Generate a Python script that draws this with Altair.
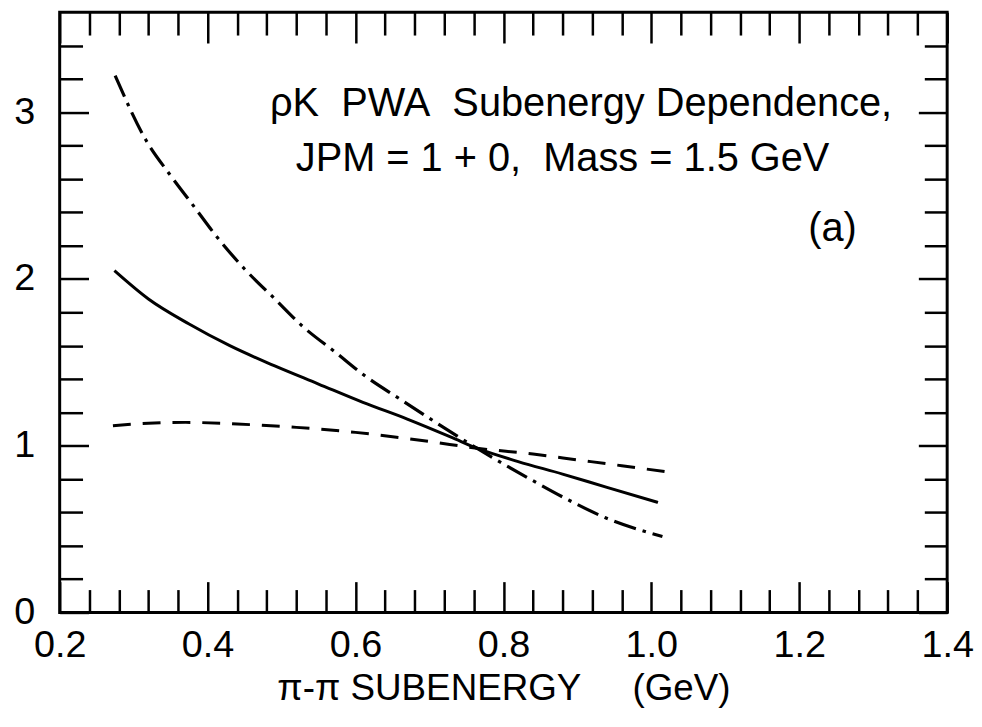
import altair as alt
import pandas as pd

# ---- data ----
solid_x = [0.274, 0.32, 0.375, 0.43, 0.49, 0.55, 0.61, 0.67, 0.73, 0.764, 0.82, 0.88, 0.94, 1.009]
solid_y = [2.05, 1.88, 1.73, 1.60, 1.48, 1.37, 1.26, 1.16, 1.05, 0.985, 0.905, 0.83, 0.75, 0.66]

dashed_x = [0.272, 0.32, 0.37, 0.44, 0.52, 0.60, 0.70, 0.764, 0.84, 0.90, 0.96, 1.018]
dashed_y = [1.12, 1.135, 1.14, 1.13, 1.11, 1.08, 1.025, 0.985, 0.95, 0.915, 0.88, 0.845]

dashdot_x = [0.275, 0.317, 0.35, 0.379, 0.413, 0.45, 0.491, 0.53, 0.573, 0.614, 0.66, 0.705,
             0.764, 0.836, 0.89, 0.938, 1.015]
dashdot_y = [3.22, 2.83, 2.62, 2.45, 2.25, 2.06, 1.88, 1.71, 1.56, 1.415, 1.28, 1.15,
             0.985, 0.80, 0.67, 0.568, 0.455]

NB = "\u00a0"
# annotation texts and their anchor positions (data units)
note_text = ["ρK" + NB + NB + "PWA" + NB + NB + "Subenergy Dependence,",
             "JPM = 1 + 0," + NB + NB + "Mass = 1.5 GeV",
             "(a)"]
note_x = [0.905, 0.88, 1.245]
note_y = [3.05, 2.72, 2.30]

x_title = "π-π SUBENERGY" + NB * 5 + "(GeV)"

# tick values
x_major = [0.2, 0.4, 0.6, 0.8, 1.0, 1.2, 1.4]
x_minor = [0.24, 0.28, 0.32, 0.36, 0.44, 0.48, 0.52, 0.56, 0.64, 0.68, 0.72, 0.76,
           0.84, 0.88, 0.92, 0.96, 1.04, 1.08, 1.12, 1.16, 1.24, 1.28, 1.32, 1.36]
y_major = [0, 1, 2, 3]
y_minor = [0.2, 0.4, 0.6, 0.8, 1.2, 1.4, 1.6, 1.8, 2.2, 2.4, 2.6, 2.8, 3.2, 3.4]

FONT = "Liberation Sans"
FS = 40
LFS = 38
TFS = 37
W, H = 893, 604

xs = alt.Scale(domain=[0.2, 1.4], nice=False, zero=False)
ys = alt.Scale(domain=[0, 3.6], nice=False, zero=False)

tick_common = dict(domain=False, grid=False, tickColor="black", tickWidth=2.5)


def xaxis(orient, major, labels=False, title=None):
    size = 31 if major else 23
    kw = dict(tick_common)
    kw.update(orient=orient, values=x_major if major else x_minor, tickSize=size, offset=-size,
              labels=labels)
    if labels:
        kw.update(format=".1f", labelFont=FONT, labelFontSize=LFS, labelColor="black",
                  labelPadding=14, labelFlush=False, labelOverlap=False, labelBound=False)
    if title:
        kw.update(title=title, titleFont=FONT, titleFontSize=TFS, titleFontWeight="normal",
                  titleColor="black", titleY=108, titleBaseline="middle")
    else:
        kw.update(title=None)
    return alt.Axis(**kw)


def yaxis(orient, major, labels=False):
    size = 29 if major else 23
    kw = dict(tick_common)
    kw.update(orient=orient, values=y_major if major else y_minor, tickSize=size, offset=-size,
              labels=labels, title=None)
    if labels:
        kw.update(format="d", labelFont=FONT, labelFontSize=LFS, labelColor="black",
                  labelPadding=25, labelFlush=False, labelOverlap=False, labelBound=False)
    return alt.Axis(**kw)


df_solid = pd.DataFrame({"x": solid_x, "y": solid_y})
df_dashed = pd.DataFrame({"x": dashed_x, "y": dashed_y})
df_dashdot = pd.DataFrame({"x": dashdot_x, "y": dashdot_y})
df_note = pd.DataFrame({"x": note_x, "y": note_y, "t": note_text})

solid = alt.Chart(df_solid).mark_line(color="black", strokeWidth=3, interpolate="monotone").encode(
    x=alt.X("x:Q", scale=xs, axis=xaxis("bottom", True, labels=True, title=x_title)),
    y=alt.Y("y:Q", scale=ys, axis=yaxis("left", True, labels=True)),
    order="x:Q",
)

dashed = alt.Chart(df_dashed).mark_line(color="black", strokeWidth=3, strokeDash=[18, 12],
                                        interpolate="monotone").encode(
    x=alt.X("x:Q", scale=xs, axis=xaxis("bottom", False)),
    y=alt.Y("y:Q", scale=ys, axis=yaxis("left", False)),
    order="x:Q",
)

dashdot = alt.Chart(df_dashdot).mark_line(color="black", strokeWidth=3.2, strokeDash=[23, 7, 3.5, 7],
                                          interpolate="monotone").encode(
    x=alt.X("x:Q", scale=xs, axis=xaxis("top", True)),
    y=alt.Y("y:Q", scale=ys, axis=yaxis("right", True)),
    order="x:Q",
)

notes = alt.Chart(df_note).mark_text(font=FONT, fontSize=FS, color="black", align="center",
                                     baseline="middle").encode(
    x=alt.X("x:Q", scale=xs, axis=xaxis("top", False)),
    y=alt.Y("y:Q", scale=ys, axis=yaxis("right", False)),
    text="t:N",
)

chart = alt.layer(solid, dashed, dashdot, notes).resolve_axis(
    x="independent", y="independent"
).properties(
    width=W, height=H,
    padding={"left": 52, "top": 2, "right": 27, "bottom": 105},
    autosize=alt.AutoSizeParams(type="none"),
    background="white",
).configure_view(stroke="black", strokeWidth=3)

chart.save("out.html", embed_options={"renderer": "svg", "actions": False})
